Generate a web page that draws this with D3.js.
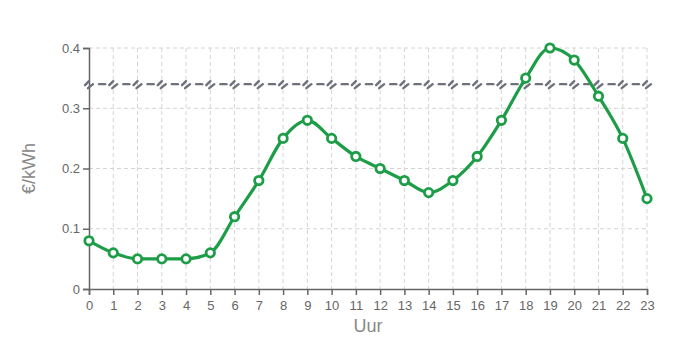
<!DOCTYPE html>
<html>
<head>
<meta charset="utf-8">
<script src="https://cdn.jsdelivr.net/npm/d3@7"></script>
<style>
  body { margin: 0; background: #fff; }
  text { font-family: "Liberation Sans", Arial, sans-serif; }
</style>
</head>
<body>
<div id="chart"></div>
<script>
// Hourly price data
const hours = d3.range(0, 24);
const prices = [0.08, 0.06, 0.05, 0.05, 0.05, 0.06, 0.12, 0.18, 0.25, 0.28, 0.25, 0.22,
                0.20, 0.18, 0.16, 0.18, 0.22, 0.28, 0.35, 0.40, 0.38, 0.32, 0.25, 0.15];
const yTicks = [0, 0.1, 0.2, 0.3, 0.4];
const threshold = 0.34;

const margin = {top: 48, right: 43, bottom: 61, left: 89};
const width = 690 - margin.left - margin.right;
const height = 350 - margin.top - margin.bottom;

const svg = d3.select("#chart").append("svg")
    .attr("width", 690)
    .attr("height", 350)
  .append("g")
    .attr("transform", `translate(${margin.left},${margin.top})`);

const x = d3.scaleLinear().domain([0, 23]).range([0, width]);
const y = d3.scaleLinear().domain([0, 0.4]).range([height, 0]);

// grid
svg.append("g").selectAll("line")
  .data(hours.slice(1))
  .enter().append("line")
  .attr("x1", d => x(d)).attr("x2", d => x(d))
  .attr("y1", 0).attr("y2", height)
  .attr("stroke", "#d4d4d4").attr("stroke-dasharray", "4,3");

svg.append("g").selectAll("line")
  .data(yTicks.slice(1))
  .enter().append("line")
  .attr("x1", 0).attr("x2", width)
  .attr("y1", d => y(d)).attr("y2", d => y(d))
  .attr("stroke", "#d4d4d4").attr("stroke-dasharray", "4,3");

// axes
const xAxis = svg.append("g")
  .attr("transform", `translate(0,${height})`)
  .call(d3.axisBottom(x).tickValues(hours).tickFormat(d3.format("d")).tickSizeOuter(0).tickSize(6));
const yAxis = svg.append("g")
  .call(d3.axisLeft(y).tickValues(yTicks).tickFormat(d => d === 0 ? "0" : d3.format(".1f")(d)).tickSizeOuter(0).tickSize(6));

[xAxis, yAxis].forEach(a => {
  a.select(".domain").attr("stroke", "#666").attr("stroke-width", 1.5);
  a.selectAll(".tick line").attr("stroke", "#666").attr("stroke-width", 1.5);
  a.selectAll(".tick text").attr("fill", "#666").style("font-size", "13px");
});
xAxis.selectAll(".tick text").attr("dy", "0.9em");

// threshold line with break marks
const ty = y(threshold);
const thr = svg.append("g")
  .attr("stroke", "#6e717a").attr("stroke-width", 2.4).attr("fill", "none")
  .attr("stroke-linecap", "round");
thr.selectAll("path.brk")
  .data(hours)
  .enter().append("path")
  .attr("class", "brk")
  .attr("d", d => {
    const cx = x(d) + 1;
    return `M${cx - 5},${ty + 1} L${cx - 1},${ty - 3}` +
           ` M${cx - 2},${ty + 4} L${cx + 3},${ty}`;
  });
thr.selectAll("line.dash")
  .data(hours.slice(0, -1))
  .enter().append("line")
  .attr("class", "dash")
  .attr("x1", d => x(d + 0.5) - 2).attr("x2", d => x(d + 0.5) + 4)
  .attr("y1", ty).attr("y2", ty);

// price line
const line = d3.line()
  .x((d, i) => x(hours[i]))
  .y(d => y(d))
  .curve(d3.curveMonotoneX);

svg.append("path")
  .datum(prices)
  .attr("fill", "none")
  .attr("stroke", "#1e9d48")
  .attr("stroke-width", 3.2)
  .attr("d", line);

svg.append("g").selectAll("circle")
  .data(prices)
  .enter().append("circle")
  .attr("cx", (d, i) => x(hours[i]))
  .attr("cy", d => y(d))
  .attr("r", 4.2)
  .attr("fill", "#fff")
  .attr("stroke", "#1e9d48")
  .attr("stroke-width", 2.8);

// axis titles
svg.append("text")
  .attr("x", width / 2).attr("y", height + 43)
  .attr("text-anchor", "middle")
  .attr("fill", "#888").style("font-size", "18px")
  .text("Uur");

svg.append("text")
  .attr("transform", `translate(${-54},${height / 2}) rotate(-90)`)
  .attr("text-anchor", "middle")
  .attr("fill", "#888").style("font-size", "18px")
  .text("€/kWh");
</script>
</body>
</html>
